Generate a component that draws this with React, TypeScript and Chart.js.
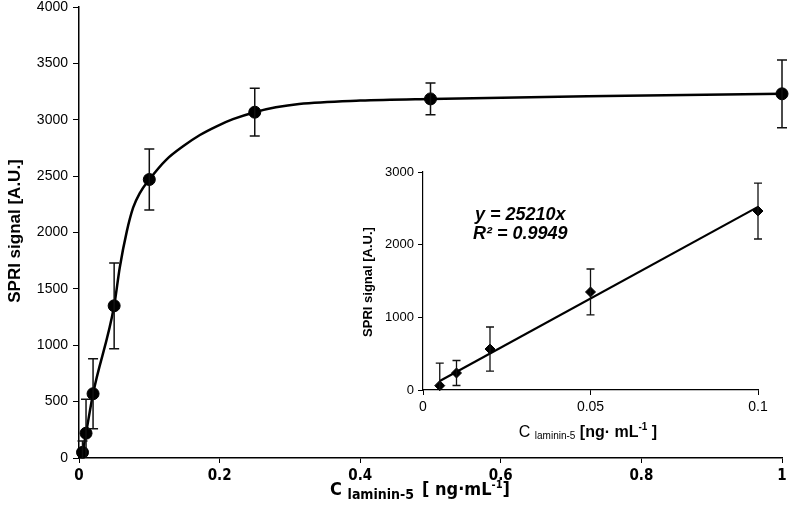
import React, { useEffect, useRef } from "react";
import Chart from "chart.js/auto";

// ---- main chart data ----
const mainX = [0.005, 0.01, 0.02, 0.05, 0.1, 0.25, 0.5, 1.0];
const mainY = [50, 220, 570, 1350, 2470, 3067, 3185, 3230];
const mainErr = [100, 300, 310, 380, 270, 212, 140, 300];
const curveX = [0, 0.005, 0.01, 0.02, 0.05, 0.058, 0.068, 0.077, 0.0865, 0.1, 0.124, 0.148, 0.172, 0.195, 0.219, 0.25, 0.28, 0.313, 0.4, 0.5, 0.75, 1.0];
const curveY = [0, 50, 220, 570, 1350, 1690, 2010, 2220, 2350, 2470, 2645, 2765, 2865, 2940, 3005, 3067, 3110, 3140, 3170, 3185, 3210, 3230];
const mainYTicks = [0, 500, 1000, 1500, 2000, 2500, 3000, 3500, 4000];
const mainXTicks = [0, 0.2, 0.4, 0.6, 0.8, 1];

// ---- inset data ----
const insetX = [0.005, 0.01, 0.02, 0.05, 0.1];
const insetY = [60, 234, 564, 1349, 2463];
const insetErr = [310, 172, 303, 316, 385];
const fitX = [0.005, 0.1];
const fitY = [125, 2520];
const insetYTicks = [0, 1000, 2000, 3000];
const insetXTicks = [0, 0.05, 0.1];
const fitLabels = ["y = 25210x", "R² = 0.9949"];

const SANS = "'Liberation Sans', Arial, sans-serif";
const NARROW = "'Liberation Sans Narrow', 'DejaVu Sans Condensed', 'Liberation Sans', sans-serif";

type Part = { text: string; font: string; dy?: number; gap?: number };

function drawParts(ctx: CanvasRenderingContext2D, parts: Part[], cx: number, y: number) {
  let total = 0;
  parts.forEach((p) => {
    ctx.font = p.font;
    total += ctx.measureText(p.text).width + (p.gap || 0);
  });
  let x = cx - total / 2;
  ctx.textAlign = "left";
  ctx.textBaseline = "alphabetic";
  parts.forEach((p) => {
    ctx.font = p.font;
    ctx.fillText(p.text, x, y + (p.dy || 0));
    x += ctx.measureText(p.text).width + (p.gap || 0);
  });
}

function errorBarPlugin(id: string, xs: number[], ys: number[], errs: number[], cap: number, lw: number) {
  return {
    id,
    afterDatasetsDraw(chart: any) {
      const { ctx, chartArea, scales } = chart;
      ctx.save();
      ctx.beginPath();
      ctx.rect(chartArea.left - 10, chartArea.top - 10, chartArea.right - chartArea.left + 20, chartArea.bottom - chartArea.top + 10);
      ctx.clip();
      ctx.strokeStyle = "#111";
      ctx.lineWidth = lw;
      xs.forEach((xv, i) => {
        const px = scales.x.getPixelForValue(xv);
        const top = scales.y.getPixelForValue(ys[i] + errs[i]);
        const botV = ys[i] - errs[i];
        const bot = scales.y.getPixelForValue(botV);
        ctx.beginPath();
        ctx.moveTo(px, top);
        ctx.lineTo(px, bot);
        ctx.moveTo(px - cap, top);
        ctx.lineTo(px + cap, top);
        if (botV >= scales.y.min) {
          ctx.moveTo(px - cap, bot);
          ctx.lineTo(px + cap, bot);
        }
        ctx.stroke();
      });
      ctx.restore();
    },
  };
}

const plain = (v: any) => String(v);

function MainChart() {
  const ref = useRef<HTMLCanvasElement>(null);
  useEffect(() => {
    const c = ref.current!;
    const chart = new Chart(c, {
      type: "scatter",
      data: {
        datasets: [
          {
            data: mainX.map((x, i) => ({ x, y: mainY[i] })),
            showLine: false,
            pointRadius: 6,
            pointBackgroundColor: "#000",
            pointBorderColor: "#000",
            clip: false,
            order: 0,
          } as any,
          {
            data: curveX.map((x, i) => ({ x, y: curveY[i] })),
            showLine: true,
            borderColor: "#000",
            borderWidth: 2.5,
            pointRadius: 0,
            cubicInterpolationMode: "monotone",
            clip: false,
            order: 1,
          } as any,
        ],
      },
      options: {
        animation: false,
        responsive: false,
        maintainAspectRatio: false,
        layout: { padding: { top: 5, right: 5, left: 0, bottom: 0 } },
        plugins: { legend: { display: false }, tooltip: { enabled: false } },
        scales: {
          x: {
            type: "linear",
            min: 0,
            max: 1,
            afterBuildTicks: (s: any) => { s.ticks = mainXTicks.map((v) => ({ value: v })); },
            afterFit: (s: any) => { s.height = 56; s.paddingLeft = 0; s.paddingRight = 0; },
            border: { color: "#000", width: 1.5 },
            grid: { display: true, drawOnChartArea: false, drawTicks: true, tickLength: 5, color: "#000" },
            ticks: { color: "#000", font: { family: NARROW, size: 15, weight: "bold" }, padding: 4, maxRotation: 0, callback: plain },
          },
          y: {
            type: "linear",
            min: 0,
            max: 4000,
            afterBuildTicks: (s: any) => { s.ticks = mainYTicks.map((v) => ({ value: v })); },
            afterFit: (s: any) => { s.width = 79; s.paddingTop = 0; s.paddingBottom = 0; },
            border: { color: "#000", width: 1.5 },
            grid: { display: true, drawOnChartArea: false, drawTicks: true, tickLength: 6, color: "#000" },
            ticks: { color: "#000", font: { family: SANS, size: 14 }, padding: 5, callback: plain },
          },
        },
      } as any,
      plugins: [
        errorBarPlugin("errMain", mainX, mainY, mainErr, 5, 1.5),
        {
          id: "titlesMain",
          afterDraw(ch: any) {
            const ctx = ch.ctx as CanvasRenderingContext2D;
            ctx.save();
            ctx.fillStyle = "#000";
            drawParts(ctx, [
              { text: "C ", font: `bold 18px ${NARROW}` },
              { text: "laminin-5", font: `bold 14px ${NARROW}`, dy: 4, gap: 8 },
              { text: "[ ng·mL", font: `bold 18px ${NARROW}` },
              { text: "-1", font: `bold 11px ${NARROW}`, dy: -7 },
              { text: "]", font: `bold 18px ${NARROW}` },
            ], 420, 495);
            ctx.translate(20, 231);
            ctx.rotate(-Math.PI / 2);
            ctx.font = `bold 17px ${SANS}`;
            ctx.textAlign = "center";
            ctx.textBaseline = "alphabetic";
            ctx.fillText("SPRI signal [A.U.]", 0, 0);
            ctx.restore();
          },
        },
      ],
    } as any);
    return () => chart.destroy();
  }, []);
  return <canvas ref={ref} width={789} height={514} style={{ position: "absolute", left: 0, top: 0, width: 789, height: 514 }} />;
}

function InsetChart() {
  const ref = useRef<HTMLCanvasElement>(null);
  useEffect(() => {
    const c = ref.current!;
    const chart = new Chart(c, {
      type: "scatter",
      data: {
        datasets: [
          {
            data: insetX.map((x, i) => ({ x, y: insetY[i] })),
            showLine: false,
            pointStyle: "rectRot",
            pointRadius: 5,
            pointBackgroundColor: "#000",
            pointBorderColor: "#000",
            clip: false,
            order: 0,
          } as any,
          {
            data: fitX.map((x, i) => ({ x, y: fitY[i] })),
            showLine: true,
            borderColor: "#000",
            borderWidth: 2.2,
            pointRadius: 0,
            clip: false,
            order: 1,
          } as any,
        ],
      },
      options: {
        animation: false,
        responsive: false,
        maintainAspectRatio: false,
        layout: { padding: { top: 12, right: 31, left: 0, bottom: 0 } },
        plugins: { legend: { display: false }, tooltip: { enabled: false } },
        scales: {
          x: {
            type: "linear",
            min: 0,
            max: 0.1,
            afterBuildTicks: (s: any) => { s.ticks = insetXTicks.map((v) => ({ value: v })); },
            afterFit: (s: any) => { s.height = 60; s.paddingLeft = 0; s.paddingRight = 0; },
            border: { color: "#000", width: 1.2 },
            grid: { display: true, drawOnChartArea: false, drawTicks: true, tickLength: 5, color: "#000" },
            ticks: { color: "#000", font: { family: SANS, size: 14 }, padding: 4, maxRotation: 0, callback: plain },
          },
          y: {
            type: "linear",
            min: 0,
            max: 3000,
            afterBuildTicks: (s: any) => { s.ticks = insetYTicks.map((v) => ({ value: v })); },
            afterFit: (s: any) => { s.width = 73; s.paddingTop = 0; s.paddingBottom = 0; },
            border: { color: "#000", width: 1.2 },
            grid: { display: true, drawOnChartArea: false, drawTicks: true, tickLength: 5, color: "#000" },
            ticks: { color: "#000", font: { family: SANS, size: 13 }, padding: 4, callback: plain },
          },
        },
      } as any,
      plugins: [
        errorBarPlugin("errInset", insetX, insetY, insetErr, 4, 1.3),
        {
          id: "titlesInset",
          afterDraw(ch: any) {
            const ctx = ch.ctx as CanvasRenderingContext2D;
            ctx.save();
            ctx.fillStyle = "#000";
            drawParts(ctx, [
              { text: "C ", font: `16px ${SANS}` },
              { text: "laminin-5", font: `10px ${SANS}`, dy: 2 },
              { text: " [ng· mL", font: `bold 16px ${SANS}` },
              { text: "-1", font: `bold 10px ${SANS}`, dy: -7 },
              { text: " ]", font: `bold 16px ${SANS}` },
            ], 238, 277);
            ctx.font = `bold italic 18px ${SANS}`;
            ctx.textAlign = "left";
            ctx.fillText(fitLabels[0], 125, 60);
            ctx.fillText(fitLabels[1], 123, 79);
            ctx.translate(22, 122);
            ctx.rotate(-Math.PI / 2);
            ctx.font = `bold 13px ${SANS}`;
            ctx.textAlign = "center";
            ctx.fillText("SPRI signal [A.U.]", 0, 0);
            ctx.restore();
          },
        },
      ],
    } as any);
    return () => chart.destroy();
  }, []);
  return <canvas ref={ref} width={439} height={290} style={{ position: "absolute", left: 350, top: 160, width: 439, height: 290 }} />;
}

export default function App() {
  return (
    <div style={{ position: "absolute", left: 0, top: 0, width: 789, height: 514, background: "#fff", overflow: "hidden" }}>
      <MainChart />
      <InsetChart />
    </div>
  );
}
